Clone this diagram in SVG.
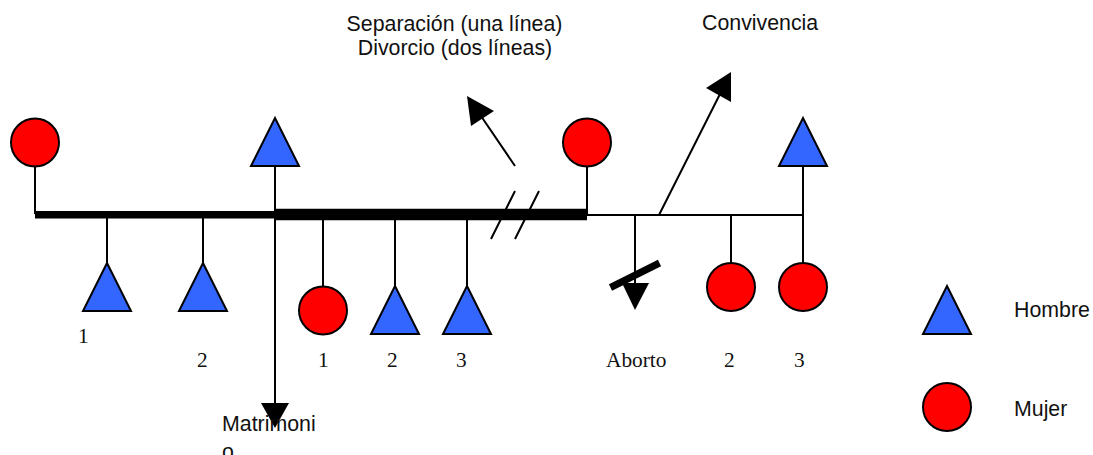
<svg xmlns="http://www.w3.org/2000/svg" width="1093" height="455" viewBox="0 0 1093 455">
<style>
.c{fill:#f00;stroke:#000;stroke-width:2}
.t{fill:#36f;stroke:#000;stroke-width:2}
.l{stroke:#000;stroke-width:2;fill:none}
.h{fill:#000;stroke:none}
.s{font-family:"Liberation Sans",Arial,sans-serif;font-size:21.33px;fill:#111}
.n{font-family:"Liberation Serif","Times New Roman",serif;font-size:21.33px;fill:#111}
</style>
<defs>
<circle id="mujer" class="c" r="24"/>
<polygon id="hombre" class="t" points="0,-24 24,24 -24,24"/>
</defs>
<rect width="1093" height="455" fill="#fff"/>
<g id="connectors">
<path class="l" d="M35 166V214M107 214V263M203 214V263M275 166V403M323 214V287M395 214V287M467 214V287M587 166V215M587 215H803M731 215V263M803 166V263M635 215V284M659 215L720 94M515 166L481 116M515 191L491 239M539 191L515 239"/>
<path d="M35 214.8H275" stroke="#000" stroke-width="7.5"/>
<path d="M275 214.6H587" stroke="#000" stroke-width="11.5"/>
<path d="M610.500 287.500L659.500 263" stroke="#000" stroke-width="7"/>
<polygon class="h" points="261,403 289,403 275,428"/>
<polygon class="h" points="467,96 494,111 471,126"/>
<polygon class="h" points="731,72 731,102 706,88"/>
<polygon class="h" points="622,283 649,283 635,310"/>
</g>
<g id="n1"><use href="#mujer" x="35" y="142.500"/></g>
<g id="n2"><use href="#hombre" x="275" y="142"/></g>
<g id="n3"><use href="#mujer" x="587" y="142.500"/></g>
<g id="n4"><use href="#hombre" x="803" y="142"/></g>
<g id="n5"><use href="#hombre" x="107" y="287"/><text class="n" x="78" y="343">1</text></g>
<g id="n6"><use href="#hombre" x="203" y="287"/><text class="n" x="197" y="367">2</text></g>
<g id="n7"><use href="#mujer" x="323" y="310.500"/><text class="n" x="318" y="367">1</text></g>
<g id="n8"><use href="#hombre" x="395" y="310"/><text class="n" x="387" y="367">2</text></g>
<g id="n9"><use href="#hombre" x="467" y="310"/><text class="n" x="456" y="367">3</text></g>
<g id="n10"><text class="n" x="606" y="367">Aborto</text></g>
<g id="n11"><use href="#mujer" x="731" y="287"/><text class="n" x="724" y="367">2</text></g>
<g id="n12"><use href="#mujer" x="803" y="287"/><text class="n" x="794" y="367">3</text></g>
<g id="legend-hombre"><use href="#hombre" x="947" y="310"/><text class="s" x="1014" y="317">Hombre</text></g>
<g id="legend-mujer"><use href="#mujer" x="947" y="407"/><text class="s" x="1014" y="416">Mujer</text></g>
<g id="label-separacion"><text class="s" x="454.500" y="31" text-anchor="middle">Separación (una línea)</text><text class="s" x="455" y="55" text-anchor="middle">Divorcio (dos líneas)</text></g>
<g id="label-convivencia"><text class="s" x="702" y="30">Convivencia</text></g>
<g id="label-matrimonio"><text class="s" x="222" y="431">Matrimoni</text><text class="s" x="222" y="459">o</text></g>
</svg>
